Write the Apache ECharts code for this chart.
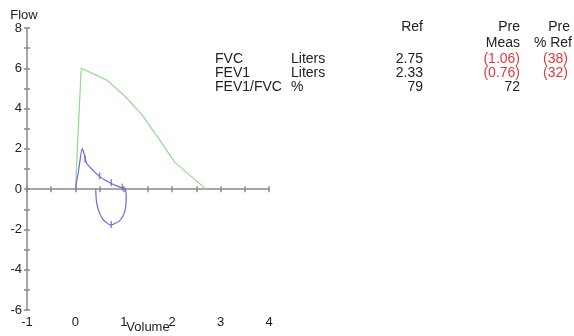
<!DOCTYPE html>
<html>
<head>
<meta charset="utf-8">
<script src="https://cdn.jsdelivr.net/npm/echarts@6/dist/echarts.min.js"></script>
<style>
html, body { margin: 0; padding: 0; background: #fff; }
#main { width: 574px; height: 336px; }
</style>
</head>
<body>
<div id="main"></div>
<script>
// predicted flow-volume curve (green)
var predCurve = [[0, 0], [0.12, 6.0], [0.66, 5.4], [1.05, 4.55], [1.38, 3.67], [1.7, 2.58], [2.05, 1.34], [2.7, 0]];
// measured expiration + inspiration loop (blue)
var measCurve = [
    [0, 0], [0.07, 1.0], [0.14, 2.02], [0.18, 1.75], [0.23, 1.3], [0.36, 0.94], [0.5, 0.62],
    [0.62, 0.44], [0.74, 0.28], [0.91, 0.11], [1.03, 0.01],
    [1.05, -0.5], [1.03, -1.0], [0.98, -1.35], [0.9, -1.6], [0.8, -1.72], [0.74, -1.79],
    [0.66, -1.7], [0.57, -1.5], [0.5, -1.19], [0.45, -0.8], [0.43, -0.5], [0.42, 0]
];
// little time markers on the measured curve
var measMarks = [[0.2, 1.5], [0.5, 0.66], [0.74, 0.32], [0.97, 0.1], [0.74, -1.75]];

var yTicks = { min: -6, max: 8, step: 1 };
var xTicks = { min: -1, max: 4, step: 0.5, labelStep: 1 };

// table on the right
var headRef = 'Ref';
var headPre = ['Pre', 'Meas'];
var headPct = ['Pre', '% Ref'];
var rowNames = ['FVC', 'FEV1', 'FEV1/FVC'];
var rowUnits = ['Liters', 'Liters', '%'];
var rowRef = ['2.75', '2.33', '79'];
var rowPre = ['(1.06)', '(0.76)', '72'];
var rowPct = ['(38)', '(32)', ''];

var chart = echarts.init(document.getElementById('main'));

var FONT = '"Liberation Sans", Arial, sans-serif';
var axisGray = '#8a8a8a';
var red = '#e0393e';

function txt(x, y, s, align, color) {
    return {
        type: 'text', x: x, y: y,
        style: { text: s, align: align, verticalAlign: 'middle',
            fill: color || '#222', font: '14px ' + FONT }
    };
}

var graphics = [];
graphics.push(txt(423, 27, headRef, 'right'));
graphics.push(txt(520, 27, headPre[0], 'right'));
graphics.push(txt(520, 43, headPre[1], 'right'));
graphics.push(txt(570, 27, headPct[0], 'right'));
graphics.push(txt(572, 43, headPct[1], 'right'));
var rowY = [59, 73, 87];
rowNames.forEach(function (n, i) {
    graphics.push(txt(215, rowY[i], n, 'left'));
    graphics.push(txt(291, rowY[i], rowUnits[i], 'left'));
    graphics.push(txt(423, rowY[i], rowRef[i], 'right'));
    graphics.push(txt(520, rowY[i], rowPre[i], 'right', rowPre[i].charAt(0) === '(' ? red : '#222'));
    if (rowPct[i]) graphics.push(txt(568, rowY[i], rowPct[i], 'right', red));
});

var option = {
    animation: false,
    grid: { left: 27, right: 305, top: 28, bottom: 26, outerBoundsMode: 'none' },
    xAxis: [{ // axis through zero, ticks downward
        type: 'value', min: xTicks.min, max: xTicks.max, interval: xTicks.step,
        axisLine: { onZero: true, lineStyle: { color: axisGray, width: 1.5 } },
        axisTick: { show: true, length: 3, lineStyle: { color: axisGray, width: 1.5 } },
        axisLabel: { show: false }, splitLine: { show: false }
    }, { // same axis, ticks upward
        type: 'value', min: xTicks.min, max: xTicks.max, interval: xTicks.step,
        position: 'bottom',
        axisLine: { show: false, onZero: true },
        axisTick: { show: true, inside: true, length: 3, lineStyle: { color: axisGray, width: 1.5 } },
        axisLabel: { show: false }, splitLine: { show: false }
    }, { // labels at the bottom
        type: 'value', min: xTicks.min, max: xTicks.max, interval: xTicks.labelStep,
        position: 'bottom',
        axisLine: { show: false, onZero: false }, axisTick: { show: false }, splitLine: { show: false },
        axisLabel: { color: '#222', fontSize: 13, fontFamily: FONT, margin: 6 },
        name: 'Volume', nameLocation: 'middle', nameGap: 11, nameMoveOverlap: false,
        nameTextStyle: { color: '#222', fontSize: 13, fontFamily: FONT }
    }],
    yAxis: [{
        type: 'value', min: yTicks.min, max: yTicks.max, interval: yTicks.step,
        axisLine: { show: true, onZero: false, lineStyle: { color: axisGray, width: 1.5 } },
        axisTick: { show: true, length: 3, lineStyle: { color: axisGray, width: 1.5 } },
        axisLabel: { color: '#222', fontSize: 13, fontFamily: FONT, margin: 5,
            formatter: function (v) { return v % 2 === 0 ? String(v) : ''; } },
        splitLine: { show: false },
        name: 'Flow', nameLocation: 'end', nameGap: 6,
        nameTextStyle: { color: '#222', fontSize: 13, fontFamily: FONT, align: 'center', padding: [0, 6, 0, 0] }
    }, {
        type: 'value', min: yTicks.min, max: yTicks.max, interval: yTicks.step, position: 'left',
        axisLine: { show: false, onZero: false },
        axisTick: { show: true, inside: true, length: 3, lineStyle: { color: axisGray, width: 1.5 } },
        axisLabel: { show: false }, splitLine: { show: false }
    }],
    series: [{
        type: 'line', data: predCurve, showSymbol: false,
        lineStyle: { color: '#95d98f', width: 1.2 }, z: 3
    }, {
        type: 'line', data: measCurve, showSymbol: false, smooth: 0.2,
        lineStyle: { color: '#6b68d6', width: 1.2 }, z: 4
    }, {
        type: 'scatter', data: measMarks, symbol: 'rect', symbolSize: [1.5, 7],
        itemStyle: { color: '#6b68d6' }, z: 5
    }],
    graphic: graphics
};
chart.setOption(option);
</script>
</body>
</html>
